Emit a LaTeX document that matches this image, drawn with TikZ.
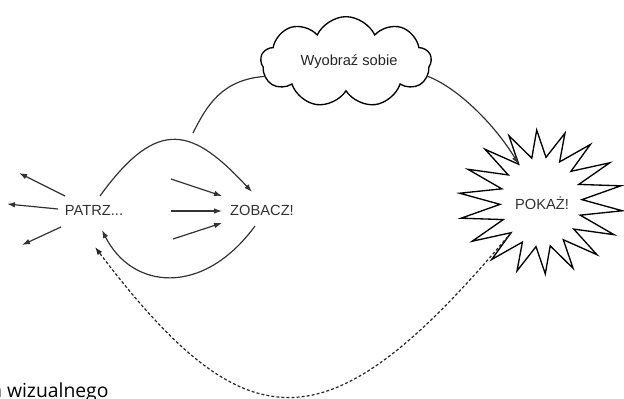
\documentclass[tikz,border=0pt]{standalone}
\usepackage{fontspec}
\setmainfont{Liberation Sans}
\newfontfamily\notefont{Open Sans}
\usetikzlibrary{arrows.meta,shapes.symbols}
\definecolor{ink}{HTML}{333333}
\tikzset{
  lbl/.style={font=\fontsize{11}{13}\selectfont, text=ink, inner sep=0pt},
  tip/.style={-{Latex[length=6pt,width=4.2pt]}},
  flow/.style={draw=ink, line width=0.9pt, tip},
  plainarc/.style={draw=ink, line width=0.9pt},
  loopback/.style={draw=black!85, line width=0.9pt, dash pattern=on 2.2pt off 1.6pt, tip},
  outline/.style={draw=black, line width=1pt, line join=miter, miter limit=20},
  thoughtcloud/.style={outline, cloud, cloud puffs=9, cloud puff arc=130, aspect=1.9,
    minimum width=128pt, minimum height=68pt, inner sep=0pt},
}
\begin{document}
\begin{tikzpicture}[x=0.75pt,y=-0.75pt]
\path[fill=white, use as bounding box] (0,0) rectangle (624,399);

% main labels
\node[lbl] (patrz) at (94,210) {PATRZ...};
\node[lbl] (zobacz) at (262,210) {ZOBACZ!};
\node[thoughtcloud] (imagine) at (346,62) {};
\node[lbl, text=black!85] (imaginetext) at (349,62) {Wyobraź sobie};
\node[lbl] (show) at (542,203) {POKAŻ!};

% starburst around POKAŻ!
\begin{scope}[shift={(541,202)}]
  \draw[outline] (7:82 and 72)
    \foreach \k in {0,...,16} {
      -- (17+20*\k:41 and 45) coordinate (burst-\k)
      -- (27+20*\k:82 and 72)
    }
    -- (357:41 and 45) coordinate (burst-17) -- cycle;
\end{scope}

% free ends of the outgoing and incoming strokes
\coordinate (out1) at (19,173);
\coordinate (out2) at (7,204);
\coordinate (out3) at (22,245);
\coordinate (in1) at (171,179);
\coordinate (in2) at (171,211);
\coordinate (in3) at (173,239);
\coordinate (thought) at (193,133);

% PATRZ... looks around
\draw[flow] ([shift={(-29,-14)}]patrz.center) -- (out1);
\draw[flow] ([shift={(-36,-1)}]patrz.center) -- (out2);
\draw[flow] ([shift={(-33,17)}]patrz.center) -- (out3);

% impressions reaching ZOBACZ!
\draw[flow] (in1) -- ([shift={(-40,-14)}]zobacz.center);
\draw[flow] (in2) -- ([shift={(-40,1)}]zobacz.center);
\draw[flow] (in3) -- ([shift={(-40,13)}]zobacz.center);

% loop between PATRZ... and ZOBACZ!
\draw[flow] ([shift={(6,-14)}]patrz.center)
  .. controls (158.5,115) and (193.5,129) .. ([shift={(-10,-18)}]zobacz.center);
\draw[flow] ([shift={(-7,16)}]zobacz.center)
  .. controls (202.6,297.5) and (131.7,289.3) .. ([shift={(8,20)}]patrz.center);

% path into the cloud and on to the starburst
\draw[plainarc] (thought) .. controls (207,105) and (222,80) .. (imagine.190);
\draw[flow] (imagine.-10) .. controls (458,88) and (495,125) .. (burst-11);

% dashed return from POKAŻ! to PATRZ...
\draw[loopback] (burst-6) .. controls (330,449) and (248,449) .. ([shift={(1,37)}]patrz.center);

% caption cut by the lower and left edges
\node[font=\notefont\fontsize{14.5}{16}\selectfont, text=black, inner sep=0pt, anchor=base west]
  (caption) at (-9,397) {a wizualnego};
\end{tikzpicture}
\end{document}
